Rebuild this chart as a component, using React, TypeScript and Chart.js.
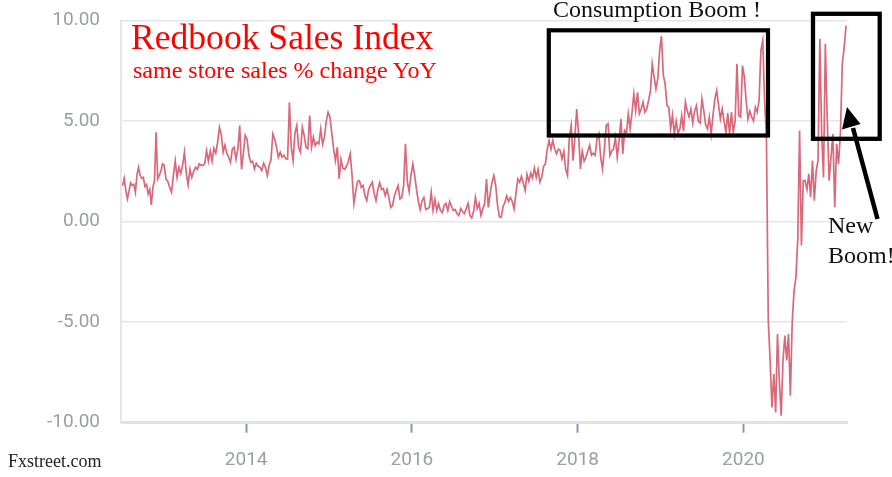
import React, { useEffect, useRef } from 'react';
import { Chart, registerables } from 'chart.js';

Chart.register(...registerables);

// Redbook same-store sales, % change YoY, one array per year
const v2012 = [1.79, 2.15, 1.54, 1.13, 1.5, 1.93, 1.8, 1.85, 1.46, 2.32, 2.7, 2.3, 2.15, 2.2, 1.75, 1.85, 1.38, 1.6, 0.83, 1.7, 2.04, 4.44, 2.12, 2.3, 2.5, 2.87];
const v2013 = [2.8, 2.1, 2.0, 1.7, 1.46, 2.3, 3.03, 2.2, 2.7, 2.4, 2.8, 3.45, 2.4, 1.83, 2.6, 2.2, 2.5, 2.7, 2.6, 2.87, 2.8, 2.8, 2.9, 3.53, 3.0, 3.5, 3.0, 3.65, 3.4, 3.95, 4.69, 4.3, 3.45, 3.8, 3.4, 3.2, 2.95, 3.6, 3.7, 3.1, 3.6, 4.78, 2.6, 3.4, 4.3];
const v2014 = [4.1, 3.3, 2.95, 3.0, 2.62, 2.9, 2.75, 2.7, 2.54, 2.9, 2.7, 2.29, 2.8, 3.1, 4.36, 4.1, 3.7, 3.2, 3.45, 3.2, 3.3, 3.12, 3.1, 5.93, 3.7, 3.03, 4.4, 4.78, 3.7, 3.45, 4.69, 4.3, 3.7, 3.62, 5.27, 3.7, 4.2, 3.78, 3.95, 3.87, 4.61, 3.85, 4.2, 5.0, 5.44];
const v2015 = [5.2, 4.4, 3.6, 3.03, 3.7, 2.12, 3.1, 2.65, 2.6, 2.75, 3.0, 3.37, 2.3, 0.9, 1.5, 2.0, 2.04, 1.7, 1.8, 1.29, 1.05, 1.6, 1.8, 1.96, 1.4, 1.04, 1.6, 1.93, 1.6, 1.65, 1.29, 1.6, 1.2, 0.7, 0.8, 1.29, 1.55, 1.79, 1.13, 1.2, 1.79, 3.87, 2.0, 1.49, 2.3];
const v2016 = [2.87, 2.3, 1.6, 1.0, 0.6, 1.04, 1.2, 0.6, 0.65, 0.7, 1.46, 0.55, 1.1, 0.55, 0.9, 0.55, 0.45, 0.8, 0.9, 0.55, 1.0, 0.75, 0.55, 0.6, 0.4, 0.3, 0.65, 0.5, 0.4, 0.65, 0.9, 0.3, 0.18, 0.5, 1.21, 0.65, 0.9, 0.3, 0.63, 0.9, 2.12, 0.71, 1.4, 1.96, 2.29];
const v2017 = [1.8, 0.8, 0.25, 0.21, 0.75, 0.95, 1.29, 1.0, 1.2, 1.0, 0.63, 1.4, 2.12, 1.95, 2.25, 1.9, 1.54, 2.35, 2.0, 2.4, 2.15, 2.67, 2.2, 2.6, 1.96, 2.2, 2.75, 2.87, 3.6, 4.03, 3.6, 4.03, 3.62, 3.37, 3.6, 3.55, 3.12, 3.5, 2.6, 2.29, 4.2, 4.78, 3.03, 4.2, 5.6];
const v2018 = [4.36, 2.62, 3.5, 3.0, 3.2, 3.5, 3.8, 3.3, 3.4, 3.3, 4.11, 4.36, 3.2, 2.62, 3.6, 4.78, 4.86, 3.28, 3.5, 3.62, 4.19, 3.2, 4.0, 5.11, 3.37, 4.53, 4.4, 5.36, 4.61, 5.4, 6.35, 5.52, 6.43, 5.36, 5.6, 5.94, 5.44, 5.6, 6.02, 6.5, 7.85, 7.2, 6.6, 7.1, 8.5];
const v2019 = [9.22, 7.3, 6.85, 5.77, 5.69, 4.61, 5.3, 4.36, 5.0, 4.4, 4.6, 5.27, 4.5, 5.94, 5.5, 5.2, 5.6, 4.9, 5.5, 5.77, 5.0, 4.9, 6.1, 5.5, 4.8, 4.61, 5.2, 4.36, 5.3, 6.1, 6.52, 5.8, 5.1, 5.6, 5.0, 4.44, 5.4, 4.36, 5.44, 4.44, 5.0, 7.85, 5.27, 5.2, 7.76];
const v2020 = [7.2, 6.0, 5.11, 5.5, 5.2, 5.0, 5.69, 5.44, 6.02, 8.51, 9.0, 6.02, 4.19, -4.9, -6.9, -9.24, -7.58, -9.49, -5.59, -7.9, -9.65, -6.9, -5.67, -6.9, -5.59, -8.66, -5.0, -3.43, -2.77, -0.9, 4.53, -1.19, 2.04, 2.04, 1.6, 2.37, 1.21, 3.03, 1.04, 2.5, 3.03, 9.09, 4.36, 2.2, 8.84];
const v2021 = [5.19, 2.04, 3.2, 4.36, 0.71, 3.87, 2.87, 4.36, 7.85, 8.67, 9.75];

// period covered by each yearly array (fractional years)
const periodStarts = [2012.5, 2013, 2014, 2015, 2016, 2017, 2018, 2019, 2020, 2021];
const periodEnds = [2013, 2014, 2015, 2016, 2017, 2018, 2019, 2020, 2021, 2021.25];
const yearlyValues = [v2012, v2013, v2014, v2015, v2016, v2017, v2018, v2019, v2020, v2021];

const xTickYears = [2014, 2016, 2018, 2020];
const yTickValues = [-10, -5, 0, 5, 10];

const LINE_COLOR = '#d9687b';
const TICK_COLOR = '#9a9ea7';

function buildPoints() {
  const pts: { x: number; y: number }[] = [];
  yearlyValues.forEach((vals, k) => {
    const s = periodStarts[k];
    const e = periodEnds[k];
    const step = (e - s) / vals.length;
    vals.forEach((v, i) => pts.push({ x: s + (i + 0.5) * step, y: v }));
  });
  return pts;
}

export default function App() {
  const ref = useRef<HTMLCanvasElement>(null);

  useEffect(() => {
    if (!ref.current) return;
    const chart = new Chart(ref.current, {
      type: 'line',
      data: {
        datasets: [
          {
            data: buildPoints(),
            borderColor: LINE_COLOR,
            borderWidth: 1.7,
            pointRadius: 0,
            tension: 0,
            fill: false,
          },
        ],
      },
      options: {
        animation: false,
        responsive: false,
        layout: { padding: { top: 20.5, right: 45, bottom: 0, left: 0 } },
        plugins: { legend: { display: false }, tooltip: { enabled: false } },
        scales: {
          x: {
            type: 'linear',
            min: 2012.49,
            max: 2021.25,
            afterBuildTicks: (s: any) => {
              s.ticks = xTickYears.map((v) => ({ value: v }));
            },
            afterFit: (s: any) => {
              s.height = 54.3;
            },
            ticks: {
              callback: (v: any) => String(v),
              font: { family: 'Roboto', size: 19 },
              color: TICK_COLOR,
              padding: 16,
              maxRotation: 0,
              autoSkip: false,
            },
            grid: {
              drawOnChartArea: false,
              drawTicks: true,
              tickLength: 10,
              tickColor: '#8a99aa',
              tickWidth: 2,
            },
            border: { display: true, color: '#e2e2e2', width: 3 },
          },
          y: {
            min: -10,
            max: 10,
            afterBuildTicks: (s: any) => {
              s.ticks = yTickValues.map((v) => ({ value: v }));
            },
            afterFit: (s: any) => {
              s.width = 121;
            },
            ticks: {
              callback: (v: any) => Number(v).toFixed(2),
              font: { family: 'Roboto', size: 19 },
              color: TICK_COLOR,
              padding: 0,
            },
            grid: {
              color: '#e6e6e6',
              lineWidth: 1.5,
              drawTicks: true,
              tickLength: 21,
              tickColor: 'rgba(0,0,0,0)',
            },
            border: { display: true, color: '#e6e6e6', width: 2 },
          },
        },
      },
    } as any);
    return () => chart.destroy();
  }, []);

  const serif = '"Liberation Serif", "Times New Roman", serif';

  return (
    <div style={{ position: 'fixed', left: 0, top: 0, width: 892, height: 477, background: '#fff', overflow: 'hidden' }}>
      <canvas ref={ref} width={892} height={477} style={{ position: 'absolute', left: 0, top: 0, width: 892, height: 477 }} />
      <svg width={892} height={477} style={{ position: 'absolute', left: 0, top: 0 }}>
        <text x={131} y={49.3} fontFamily={serif} fontSize={35.6} fill="#ff0000">Redbook Sales Index</text>
        <text x={133} y={78} fontFamily={serif} fontSize={24} fill="#ff0000">same store sales % change YoY</text>
        <text x={553} y={17.3} fontFamily={serif} fontSize={24} fill="#111">Consumption Boom !</text>
        <text x={828} y={233} fontFamily={serif} fontSize={24} fill="#111">New</text>
        <text x={828} y={263} fontFamily={serif} fontSize={24} fill="#111">Boom!</text>
        <text x={8} y={466.7} fontFamily={serif} fontSize={18} fill="#222">Fxstreet.com</text>
        <rect x={548.8} y={30.3} width={219.2} height={105.2} fill="none" stroke="#000" strokeWidth={4.2} />
        <rect x={813} y={13.8} width={66.7} height={125} fill="none" stroke="#000" strokeWidth={4.3} />
        <line x1={853} x2={877.5} y1={128} y2={219} stroke="#000" strokeWidth={4.5} />
        <polygon points="847,107 842,129.5 860.5,124" fill="#000" />
      </svg>
    </div>
  );
}
